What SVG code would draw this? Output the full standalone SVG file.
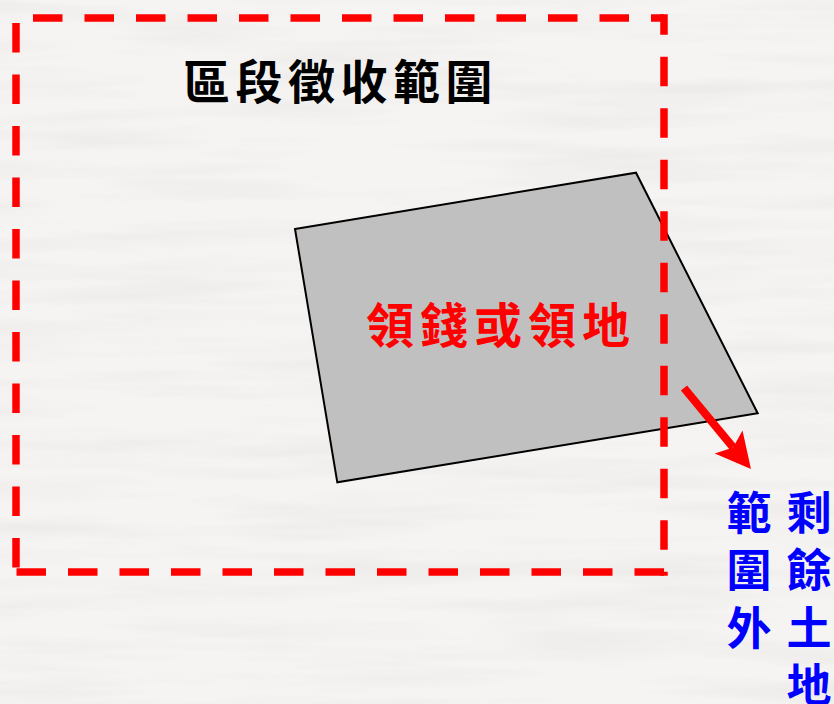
<svg xmlns="http://www.w3.org/2000/svg" width="834" height="704" viewBox="0 0 834 704">
  <defs>
    <filter id="paper" x="0" y="0" width="100%" height="100%">
      <feTurbulence type="fractalNoise" baseFrequency="0.004 0.05" numOctaves="3" seed="7" result="n"/>
      <feColorMatrix in="n" type="matrix" values="0 0 0 0 0.55  0 0 0 0 0.53  0 0 0 0 0.52  0 0 0 -1.6 0.95"/>
    </filter>
    <marker id="arrowhead" markerUnits="userSpaceOnUse" viewBox="-36 -20 38 40" refX="-28" refY="0" markerWidth="38" markerHeight="40" orient="auto">
      <path d="M0,0 L-35,-18 L-28,0 L-35,18 Z" fill="#FF0000"/>
    </marker>
    <style>
      .dash { stroke: #FF0000; stroke-width: 7.5; fill: none; stroke-dasharray: 29.5 22; }
      .cjk { font-family: "Noto Sans CJK TC", "Noto Sans CJK SC", sans-serif; font-weight: bold; }
      .title { font-size: 47px; fill: #000000; letter-spacing: 5.5px; }
      .inner { font-size: 48px; fill: #FF0000; letter-spacing: 6px; }
      .side { font-size: 45px; fill: #0000FF; writing-mode: vertical-rl; letter-spacing: 12.5px; }
    </style>
  </defs>

  <g id="background">
    <rect x="0" y="0" width="834" height="704" fill="#F6F4F2"/>
    <rect x="0" y="0" width="834" height="704" filter="url(#paper)" opacity="0.22"/>
  </g>

  <g id="parcel">
    <polygon points="295,229 636,172.7 757.7,413.3 337.3,482.3" fill="#C0C0C0" stroke="#000000" stroke-width="2"/>
    <text class="cjk inner" x="366" y="343">領錢或領地</text>
  </g>

  <g id="expropriation-boundary">
    <line class="dash" x1="16" y1="18" x2="664" y2="18" stroke-dashoffset="34.5"/>
    <line class="dash" x1="664" y1="14.25" x2="664" y2="575.75" stroke-dashoffset="9"/>
    <line class="dash" x1="664" y1="572" x2="16" y2="572" stroke-dashoffset="0"/>
    <line class="dash" x1="16" y1="18" x2="16" y2="572" stroke-dashoffset="46.5"/>
    <text class="cjk title" x="183" y="99">區段徵收範圍</text>
  </g>

  <g id="outside-label">
    <text class="cjk side" x="809" y="490">剩餘土地</text>
    <text class="cjk side" x="749" y="490">範圍外</text>
  </g>

  <g id="connectors">
    <line x1="684" y1="388" x2="733.1" y2="447.4" stroke="#FF0000" stroke-width="8" marker-end="url(#arrowhead)"/>
  </g>
</svg>
